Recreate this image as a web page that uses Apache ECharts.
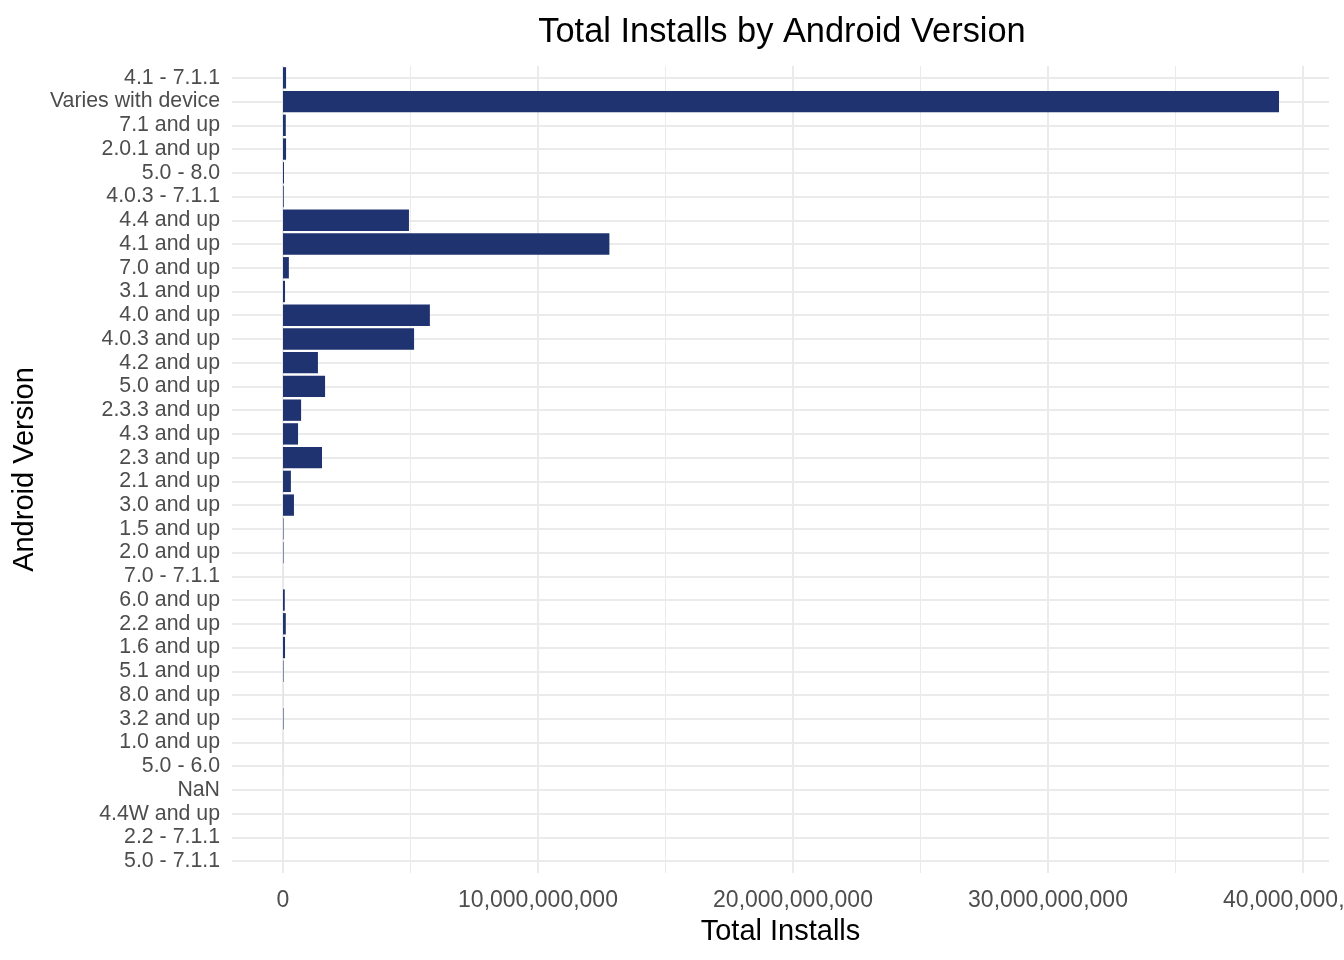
<!DOCTYPE html>
<html>
<head>
<meta charset="utf-8">
<title>Total Installs by Android Version</title>
<script src="https://cdn.jsdelivr.net/npm/echarts@6/dist/echarts.min.js"></script>
<style>
  html, body { margin: 0; padding: 0; background: #fff; }
  #chart { width: 1344px; height: 960px; }
</style>
</head>
<body>
<div id="chart"></div>
<script>
// versions, listed top to bottom as in the picture
var versions = ['4.1 - 7.1.1', 'Varies with device', '7.1 and up', '2.0.1 and up', '5.0 - 8.0',
  '4.0.3 - 7.1.1', '4.4 and up', '4.1 and up', '7.0 and up', '3.1 and up', '4.0 and up',
  '4.0.3 and up', '4.2 and up', '5.0 and up', '2.3.3 and up', '4.3 and up', '2.3 and up',
  '2.1 and up', '3.0 and up', '1.5 and up', '2.0 and up', '7.0 - 7.1.1', '6.0 and up',
  '2.2 and up', '1.6 and up', '5.1 and up', '8.0 and up', '3.2 and up', '1.0 and up',
  '5.0 - 6.0', 'NaN', '4.4W and up', '2.2 - 7.1.1', '5.0 - 7.1.1'];

// total installs
var installs = [1.2e8, 3.906e10, 1.1e8, 1.2e8, 4e7,
  3e7, 4.94e9, 1.28e10, 2.3e8, 8e7, 5.76e9,
  5.14e9, 1.37e9, 1.65e9, 7.1e8, 5.9e8, 1.53e9,
  3.1e8, 4.3e8, 2e7, 2e7, 1e6, 7e7,
  1.1e8, 8e7, 2e7, 2e6, 2e7, 1e6,
  1e6, 0, 0, 0, 0];

var xTicks = [0, 1e10, 2e10, 3e10, 4e10];
var xMinorTicks = [5e9, 1.5e10, 2.5e10, 3.5e10];

var chart = echarts.init(document.getElementById('chart'));

// panel grid lines (theme_minimal look)
var gridLines = [];
xTicks.forEach(function (v) {
  gridLines.push({ xAxis: v, lineStyle: { width: 2 } });
});
xMinorTicks.forEach(function (v) {
  gridLines.push({ xAxis: v, lineStyle: { width: 1 } });
});
versions.forEach(function (v) {
  gridLines.push({ yAxis: v, lineStyle: { width: 2 } });
});

var font = 'Liberation Sans, Arial, sans-serif';

var option = {
  animation: false,
  backgroundColor: '#ffffff',
  title: {
    text: 'Total Installs by Android Version',
    left: 777,
    textAlign: 'center',
    top: 11,
    textStyle: { fontFamily: font, fontSize: 34.4, fontWeight: 'normal', color: '#000' }
  },
  grid: { left: 232, right: 15, top: 66, bottom: 87, containLabel: false, outerBoundsMode: 'none' },
  xAxis: {
    type: 'value',
    min: -2e9,
    max: 4.102e10,
    name: 'Total Installs',
    nameLocation: 'middle',
    nameGap: 44,
    nameTextStyle: { fontFamily: font, fontSize: 29, color: '#000' },
    axisLine: { show: false },
    axisTick: { show: false },
    splitLine: { show: false },
    axisLabel: {
      customValues: xTicks,
      margin: 16,
      fontFamily: font,
      fontSize: 23,
      color: '#4D4D4D',
      hideOverlap: false,
      formatter: function (v) { return Number(v).toLocaleString('en-US'); }
    }
  },
  yAxis: {
    type: 'category',
    inverse: true,
    data: versions,
    name: 'Android Version',
    nameLocation: 'middle',
    nameRotate: 90,
    nameGap: 190,
    nameTextStyle: { fontFamily: font, fontSize: 29, color: '#000' },
    axisLine: { show: false },
    axisTick: { show: false },
    splitLine: { show: false },
    axisLabel: { interval: 0, margin: 12, fontFamily: font, fontSize: 21.3, color: '#4D4D4D' }
  },
  series: [
    {
      type: 'line',
      data: [],
      silent: true,
      markLine: {
        z: 1,
        silent: true,
        symbol: 'none',
        label: { show: false },
        lineStyle: { color: '#EBEBEB', type: 'solid' },
        data: gridLines
      }
    },
    {
      type: 'bar',
      z: 3,
      data: installs,
      barCategoryGap: '10%',
      itemStyle: { color: '#1F3370' }
    }
  ]
};

chart.setOption(option);
</script>
</body>
</html>
